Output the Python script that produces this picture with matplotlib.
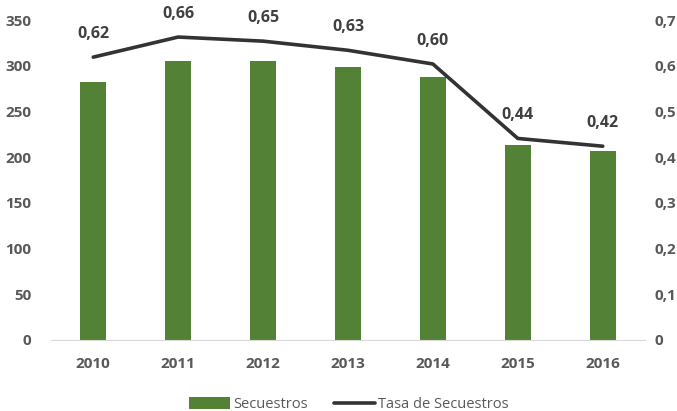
import matplotlib.pyplot as plt
from matplotlib.ticker import FuncFormatter

years = ['2010', '2011', '2012', '2013', '2014', '2015', '2016']
secuestros = [282, 305, 305, 299, 288, 213, 207]
tasa = [0.619, 0.663, 0.654, 0.634, 0.604, 0.441, 0.424]

plt.rcParams['font.family'] = ['Open Sans', 'DejaVu Sans']
gray = '#595959'

fig = plt.figure(figsize=(6.77, 4.11), dpi=100)
ax = fig.add_axes([0.075, 0.173, 0.878, 0.778])
ax2 = ax.twinx()

x = range(len(years))
ax.bar(x, secuestros, width=0.31, color='#538135', label='Secuestros', zorder=2)
ax2.plot(x, tasa, color='#333333', linewidth=2.6, label='Tasa de Secuestros',
         solid_capstyle='round', solid_joinstyle='round', zorder=3)

# data labels for the rate line
for i, v in enumerate(tasa):
    ax2.annotate(f'{v:.2f}'.replace('.', ','), (i, v), xytext=(0, 11),
                 textcoords='offset points', ha='center', va='bottom',
                 fontsize=11.5, fontweight='bold', color='#404040')

ax.set_xlim(-0.5, len(years) - 0.5)
ax.set_ylim(0, 350)
ax.set_yticks(range(0, 351, 50))
ax2.set_ylim(0, 0.7)
ax2.set_yticks([i / 10 for i in range(8)])
ax2.yaxis.set_major_formatter(FuncFormatter(
    lambda v, p: '0' if v == 0 else f'{v:.1f}'.replace('.', ',')))

ax.set_xticks(list(x))
ax.set_xticklabels(years)

for a in (ax, ax2):
    for s in a.spines.values():
        s.set_visible(False)
    a.tick_params(length=0, labelsize=11, labelcolor=gray)
    for lbl in a.get_yticklabels() + a.get_xticklabels():
        lbl.set_fontweight('bold')
ax.spines['bottom'].set_visible(True)
ax.spines['bottom'].set_color('#d9d9d9')
ax.tick_params(axis='x', pad=12)
ax.tick_params(axis='y', pad=14)
ax2.tick_params(axis='y', pad=7)

h1, l1 = ax.get_legend_handles_labels()
h2, l2 = ax2.get_legend_handles_labels()
fig.legend(h1 + h2, l1 + l2, loc='lower center', bbox_to_anchor=(0.515, -0.035),
           ncol=2, frameon=False, fontsize=10.5, labelcolor=gray,
           handlelength=2.8, handleheight=0.9, columnspacing=1.8, handletextpad=0.2)

fig.savefig('out.png', dpi=100)
